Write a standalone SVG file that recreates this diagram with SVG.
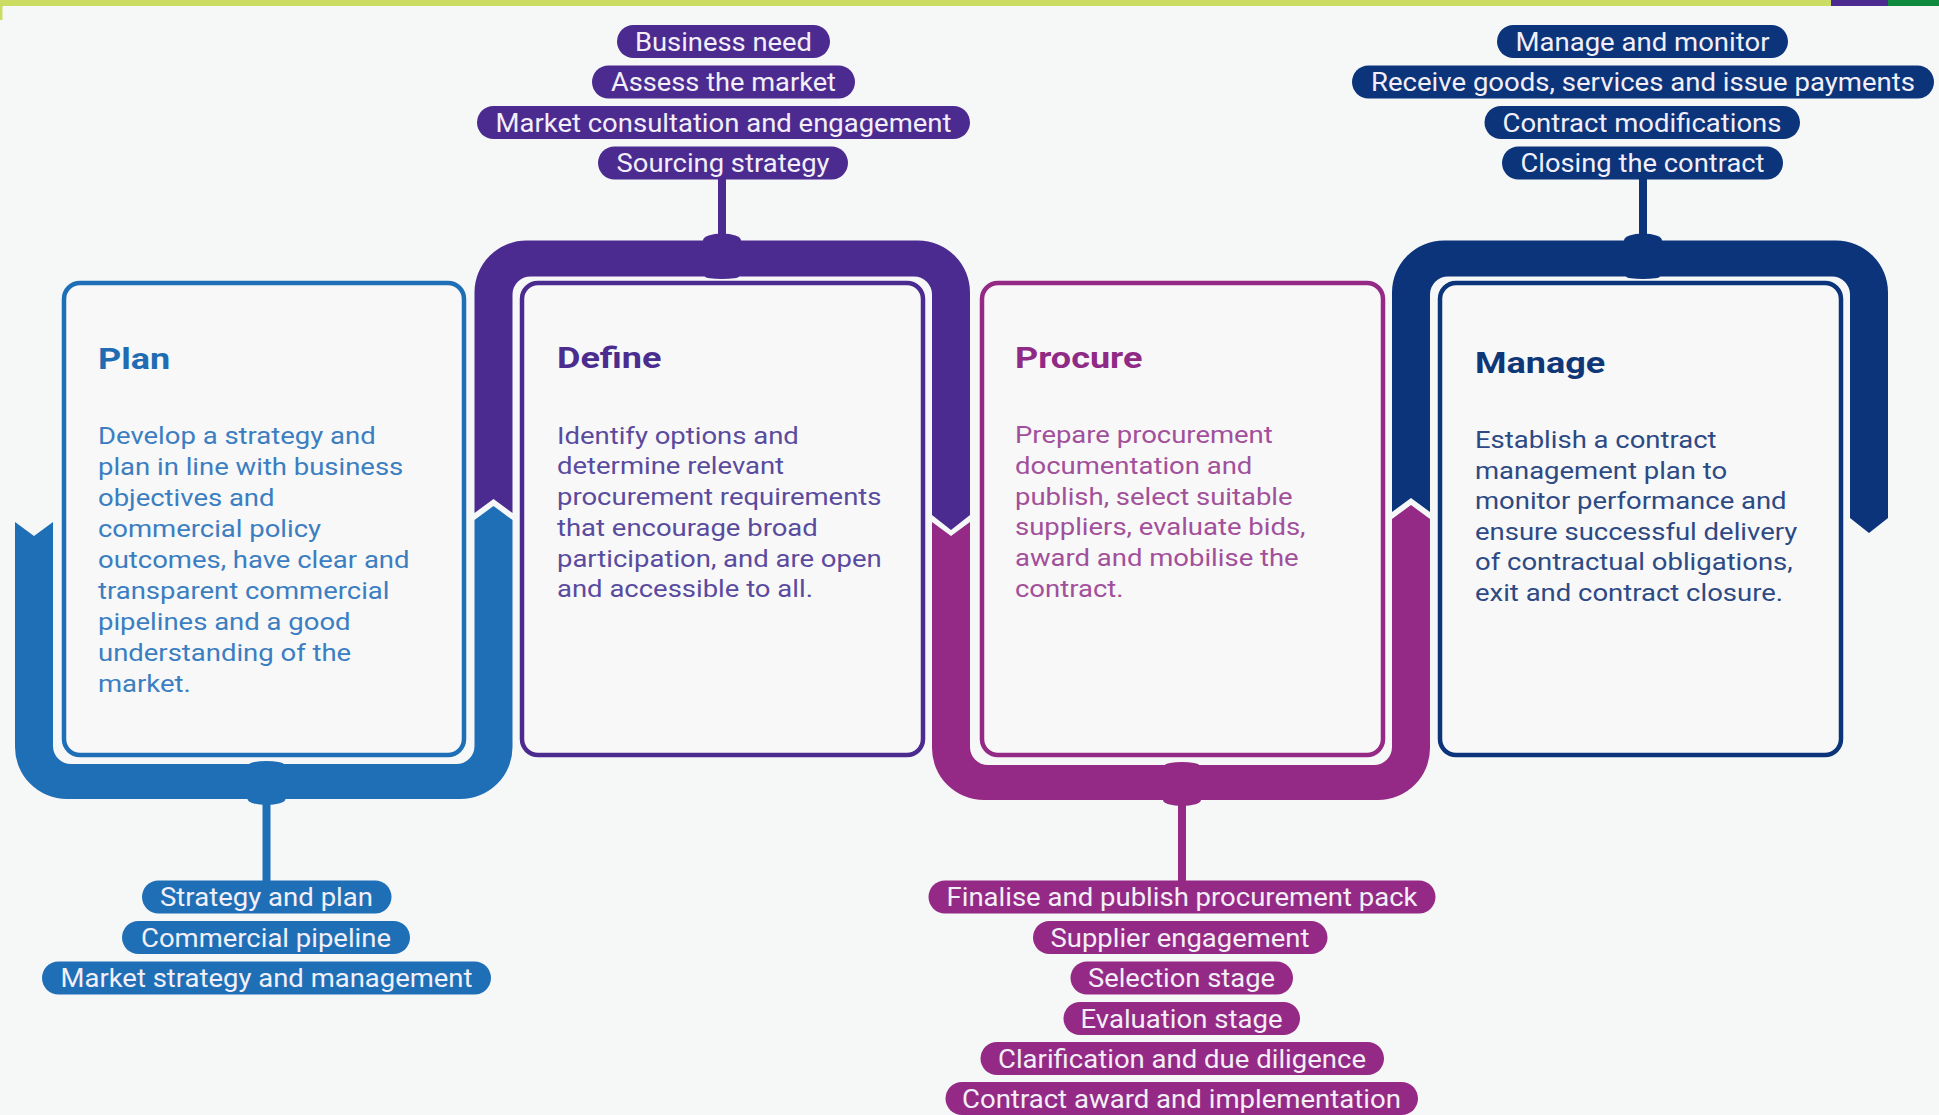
<svg xmlns="http://www.w3.org/2000/svg" width="1939" height="1115" viewBox="0 0 1939 1115">
<style>
.box{fill:#f8f8f8;stroke-width:4.5}
.title{font-family:Roboto,"Liberation Sans",sans-serif;font-weight:bold;font-size:30px}
.body{font-family:Roboto,"Liberation Sans",sans-serif;font-size:24px}
.pt{font-family:Roboto,"Liberation Sans",sans-serif;font-size:25px;fill:#f2eff8;text-anchor:middle}
.blue{fill:#1f6fb7}.purple{fill:#4c2b90}.mag{fill:#942a85}.navy{fill:#0c347a}
</style>
<rect x="0" y="0" width="1939" height="1115" fill="#f6f7f7"/>
<rect x="0" y="0" width="1831" height="6" fill="#cbdc63"/>
<rect x="0" y="0" width="2.5" height="20" fill="#cbdc63"/>
<rect x="1831" y="0" width="57" height="6" fill="#4c2b90"/>
<rect x="1888" y="0" width="51" height="6" fill="#0e8a3f"/>

<g id="connectors">
  <path class="blue" d="M15 522 L15 747 A52 52 0 0 0 67 799 L460.5 799 A52 52 0 0 0 512.5 747 L512.5 520 L493.5 506 L474.5 520 L474.5 746 A18 18 0 0 1 456.5 764 L71 764 A18 18 0 0 1 53 746 L53 522 L34 536 Z"/>
  <path class="purple" d="M474.5 513 L474.5 292.5 A52 52 0 0 1 526.5 240.5 L918 240.5 A52 52 0 0 1 970 292.5 L970 515 L951 530 L932 515 L932 294.5 A18 18 0 0 0 914 276.5 L530.5 276.5 A18 18 0 0 0 512.5 294.5 L512.5 513 L493.5 499 Z"/>
  <path class="mag" d="M932 522 L932 748 A52 52 0 0 0 984 800 L1378 800 A52 52 0 0 0 1430 748 L1430 519 L1411 505 L1392 519 L1392 747 A18 18 0 0 1 1374 765 L988 765 A18 18 0 0 1 970 747 L970 522 L951 536 Z"/>
  <path class="navy" d="M1392 512 L1392 292.5 A52 52 0 0 1 1444 240.5 L1836 240.5 A52 52 0 0 1 1888 292.5 L1888 518 L1869 533 L1850 518 L1850 294.5 A18 18 0 0 0 1832 276.5 L1448 276.5 A18 18 0 0 0 1430 294.5 L1430 512 L1411 498 Z"/>
  <rect class="blue" x="262.5" y="795" width="8" height="88"/>
  <ellipse class="blue" cx="266.5" cy="799" rx="19" ry="6"/>
  <ellipse class="blue" cx="266.5" cy="764" rx="17" ry="3"/>
  <rect class="purple" x="718" y="176" width="8" height="66"/>
  <ellipse class="purple" cx="722" cy="240.5" rx="19" ry="7"/>
  <ellipse class="purple" cx="722" cy="276.5" rx="17" ry="2.5"/>
  <rect class="mag" x="1178" y="796" width="8" height="88"/>
  <ellipse class="mag" cx="1182" cy="800" rx="19" ry="6"/>
  <ellipse class="mag" cx="1182" cy="765" rx="17" ry="3"/>
  <rect class="navy" x="1639" y="176" width="8" height="66"/>
  <ellipse class="navy" cx="1643" cy="240.5" rx="19" ry="7"/>
  <ellipse class="navy" cx="1643" cy="276.5" rx="17" ry="2.5"/>
</g>

<g id="node-plan">
  <rect class="box" x="64" y="283" width="400" height="472" rx="16" stroke="#1f6fb7"/>
  <g transform="translate(98,369) scale(1.2,1)"><text class="title" fill="#1f6cb3">Plan</text></g>
  <g transform="translate(98,444) scale(1.145,1)"><text class="body" fill="#3b7ec1">
    <tspan x="0" y="0">Develop a strategy and</tspan>
    <tspan x="0" y="31">plan in line with business</tspan>
    <tspan x="0" y="62">objectives and</tspan>
    <tspan x="0" y="93">commercial policy</tspan>
    <tspan x="0" y="124">outcomes, have clear and</tspan>
    <tspan x="0" y="155">transparent commercial</tspan>
    <tspan x="0" y="186">pipelines and a good</tspan>
    <tspan x="0" y="217">understanding of the</tspan>
    <tspan x="0" y="248">market.</tspan>
  </text></g>
</g>

<g id="node-define">
  <rect class="box" x="522" y="283" width="401" height="472" rx="16" stroke="#4c2b90"/>
  <g transform="translate(557,368) scale(1.2,1)"><text class="title" fill="#4a2d8e">Define</text></g>
  <g transform="translate(557,443.5) scale(1.145,1)"><text class="body" fill="#5a4b9f">
    <tspan x="0" y="0">Identify options and</tspan>
    <tspan x="0" y="30.8">determine relevant</tspan>
    <tspan x="0" y="61.6">procurement requirements</tspan>
    <tspan x="0" y="92.4">that encourage broad</tspan>
    <tspan x="0" y="123.2">participation, and are open</tspan>
    <tspan x="0" y="154">and accessible to all.</tspan>
  </text></g>
</g>

<g id="node-procure">
  <rect class="box" x="982" y="283" width="401" height="472" rx="16" stroke="#942a85"/>
  <g transform="translate(1015,368) scale(1.2,1)"><text class="title" fill="#8f2a85">Procure</text></g>
  <g transform="translate(1015,443) scale(1.145,1)"><text class="body" fill="#a2509b">
    <tspan x="0" y="0">Prepare procurement</tspan>
    <tspan x="0" y="30.8">documentation and</tspan>
    <tspan x="0" y="61.6">publish, select suitable</tspan>
    <tspan x="0" y="92.4">suppliers, evaluate bids,</tspan>
    <tspan x="0" y="123.2">award and mobilise the</tspan>
    <tspan x="0" y="154">contract.</tspan>
  </text></g>
</g>

<g id="node-manage">
  <rect class="box" x="1440" y="283" width="401" height="472" rx="16" stroke="#0c347a"/>
  <g transform="translate(1475,373) scale(1.2,1)"><text class="title" fill="#0f3677">Manage</text></g>
  <g transform="translate(1475,448) scale(1.145,1)"><text class="body" fill="#2d4a85">
    <tspan x="0" y="0">Establish a contract</tspan>
    <tspan x="0" y="30.6">management plan to</tspan>
    <tspan x="0" y="61.2">monitor performance and</tspan>
    <tspan x="0" y="91.8">ensure successful delivery</tspan>
    <tspan x="0" y="122.4">of contractual obligations,</tspan>
    <tspan x="0" y="153">exit and contract closure.</tspan>
  </text></g>
</g>

<g id="pills-define">
  <rect class="purple" x="617" y="25" width="213" height="33" rx="16.5"/>
  <text class="pt" x="723.5" y="50.5" textLength="177" lengthAdjust="spacingAndGlyphs">Business need</text>
  <rect class="purple" x="592" y="65.5" width="263" height="33" rx="16.5"/>
  <text class="pt" x="723.5" y="91" textLength="225" lengthAdjust="spacingAndGlyphs">Assess the market</text>
  <rect class="purple" x="477" y="106" width="493" height="33" rx="16.5"/>
  <text class="pt" x="723.5" y="131.5" textLength="456" lengthAdjust="spacingAndGlyphs">Market consultation and engagement</text>
  <rect class="purple" x="598" y="146.5" width="250" height="33" rx="16.5"/>
  <text class="pt" x="723" y="172" textLength="213" lengthAdjust="spacingAndGlyphs">Sourcing strategy</text>
</g>

<g id="pills-manage">
  <rect class="navy" x="1497" y="25" width="291" height="33" rx="16.5"/>
  <text class="pt" x="1642.5" y="50.5" textLength="254" lengthAdjust="spacingAndGlyphs">Manage and monitor</text>
  <rect class="navy" x="1352" y="65.5" width="582" height="33" rx="16.5"/>
  <text class="pt" x="1643" y="91" textLength="544" lengthAdjust="spacingAndGlyphs">Receive goods, services and issue payments</text>
  <rect class="navy" x="1484.5" y="106" width="315.5" height="33" rx="16.5"/>
  <text class="pt" x="1642" y="131.5" textLength="279" lengthAdjust="spacingAndGlyphs">Contract modifications</text>
  <rect class="navy" x="1502" y="146.5" width="281" height="33" rx="16.5"/>
  <text class="pt" x="1642.5" y="172" textLength="244" lengthAdjust="spacingAndGlyphs">Closing the contract</text>
</g>

<g id="pills-plan">
  <rect class="blue" x="142" y="880.5" width="249.5" height="33" rx="16.5"/>
  <text class="pt" x="266.5" y="906" textLength="213" lengthAdjust="spacingAndGlyphs">Strategy and plan</text>
  <rect class="blue" x="122" y="921" width="288" height="33" rx="16.5"/>
  <text class="pt" x="266" y="946.5" textLength="250" lengthAdjust="spacingAndGlyphs">Commercial pipeline</text>
  <rect class="blue" x="42" y="961.5" width="449" height="33" rx="16.5"/>
  <text class="pt" x="266.5" y="987" textLength="412" lengthAdjust="spacingAndGlyphs">Market strategy and management</text>
</g>

<g id="pills-procure">
  <rect class="mag" x="928.5" y="880.5" width="507" height="33" rx="16.5"/>
  <text class="pt" x="1182" y="906" textLength="471" lengthAdjust="spacingAndGlyphs">Finalise and publish procurement pack</text>
  <rect class="mag" x="1033" y="921" width="294.5" height="33" rx="16.5"/>
  <text class="pt" x="1180" y="946.5" textLength="259" lengthAdjust="spacingAndGlyphs">Supplier engagement</text>
  <rect class="mag" x="1070.5" y="961.5" width="222.5" height="33" rx="16.5"/>
  <text class="pt" x="1181.5" y="987" textLength="187" lengthAdjust="spacingAndGlyphs">Selection stage</text>
  <rect class="mag" x="1063.5" y="1002" width="236.5" height="33" rx="16.5"/>
  <text class="pt" x="1181.5" y="1027.5" textLength="202" lengthAdjust="spacingAndGlyphs">Evaluation stage</text>
  <rect class="mag" x="980.5" y="1042" width="403.5" height="33" rx="16.5"/>
  <text class="pt" x="1182" y="1067.5" textLength="368" lengthAdjust="spacingAndGlyphs">Clarification and due diligence</text>
  <rect class="mag" x="945.5" y="1082" width="472.5" height="33" rx="16.5"/>
  <text class="pt" x="1181.5" y="1107.5" textLength="439" lengthAdjust="spacingAndGlyphs">Contract award and implementation</text>
</g>
</svg>
